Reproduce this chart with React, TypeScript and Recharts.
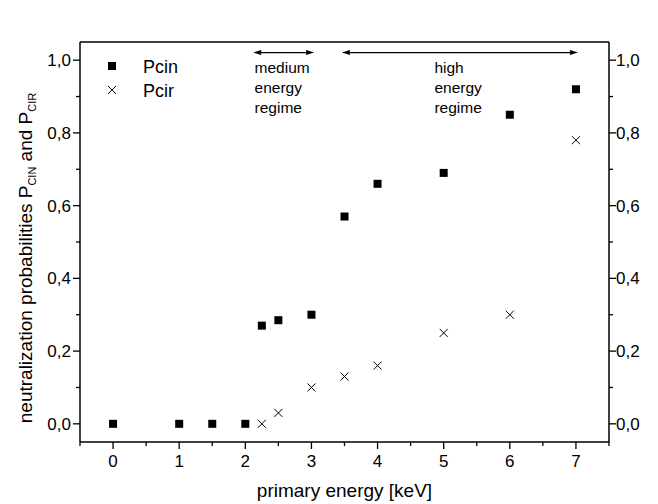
import React from "react";
import {
  Label,
  Legend,
  ReferenceDot,
  ReferenceLine,
  Scatter,
  ScatterChart,
  XAxis,
  YAxis,
} from "recharts";

const FONT = "'Liberation Sans', Arial, Helvetica, sans-serif";

// measured points
const pcinEnergy = [0, 1, 1.5, 2, 2.25, 2.5, 3, 3.5, 4, 5, 6, 7];
const pcinValues = [0, 0, 0, 0, 0.27, 0.285, 0.3, 0.57, 0.66, 0.69, 0.85, 0.92];
const pcirEnergy = [2.25, 2.5, 3, 3.5, 4, 5, 6, 7];
const pcirValues = [0, 0.03, 0.1, 0.13, 0.16, 0.25, 0.3, 0.78];

const energyTicks = [-0.5, 0, 0.5, 1, 1.5, 2, 2.5, 3, 3.5, 4, 4.5, 5, 5.5, 6, 6.5, 7, 7.5];
const probTicks = [0, 0.1, 0.2, 0.3, 0.4, 0.5, 0.6, 0.7, 0.8, 0.9, 1.0];

// annotations (data coordinates)
const mediumSpan = [2.12, 3.04];
const highSpan = [3.46, 7.03];
const arrowLevel = 1.021;
const noteLevel = 0.964;
const mediumNote = ["medium", "energy", "regime"];
const highNote = ["high", "energy", "regime"];

const pcinData = pcinEnergy.map((e, i) => ({ energy: e, p: pcinValues[i] }));
const pcirData = pcirEnergy.map((e, i) => ({ energy: e, p: pcirValues[i] }));

const makeTick = (side: string) => (props: any) => {
  const { x, y, payload } = props;
  const v = payload.value as number;
  const horizontal = side === "top" || side === "bottom";
  const major = horizontal ? Number.isInteger(v) : Math.round(v * 10) % 2 === 0;
  const len = major ? 7 : 4;
  const label = horizontal ? String(v) : v.toFixed(1).replace(".", ",");
  const common = { fontFamily: FONT, fontSize: 17, fill: "#000" };
  if (side === "top")
    return (
      <g>
        <line x1={x} y1={y} x2={x} y2={y - len} stroke="#000" strokeWidth={1.3} />
        {major && <text x={x} y={y - 15} textAnchor="middle" {...common}>{label}</text>}
      </g>
    );
  if (side === "bottom")
    return (
      <g>
        <line x1={x} y1={y} x2={x} y2={y + len} stroke="#000" strokeWidth={1.3} />
        {major && <text x={x} y={y + 25} textAnchor="middle" {...common}>{label}</text>}
      </g>
    );
  if (side === "left")
    return (
      <g>
        <line x1={x} y1={y} x2={x - len} y2={y} stroke="#000" strokeWidth={1.3} />
        {major && <text x={x - 9} y={y} dy="0.36em" textAnchor="end" {...common}>{label}</text>}
      </g>
    );
  return (
    <g>
      <line x1={x} y1={y} x2={x + len} y2={y} stroke="#000" strokeWidth={1.3} />
      {major && <text x={x + 7} y={y} dy="0.36em" textAnchor="start" {...common}>{label}</text>}
    </g>
  );
};

const SquareMark = (props: any) => (
  <rect x={props.cx - 4} y={props.cy - 4} width={8} height={8} fill="#000" />
);

const CrossMark = (props: any) => (
  <g stroke="#000" strokeWidth={1}>
    <line x1={props.cx - 4} y1={props.cy - 4} x2={props.cx + 4} y2={props.cy + 4} />
    <line x1={props.cx - 4} y1={props.cy + 4} x2={props.cx + 4} y2={props.cy - 4} />
  </g>
);

const DoubleArrow = (props: any) => {
  const { x1, y1, x2, y2 } = props;
  const head = 8;
  const half = 2.5;
  return (
    <g>
      <line x1={x1 + head - 1} y1={y1} x2={x2 - head + 1} y2={y2} stroke="#000" strokeWidth={1.2} />
      <polygon points={`${x1},${y1} ${x1 + head},${y1 - half} ${x1 + head},${y1 + half}`} fill="#000" />
      <polygon points={`${x2},${y2} ${x2 - head},${y2 - half} ${x2 - head},${y2 + half}`} fill="#000" />
    </g>
  );
};

const makeNote = (lines: string[]) => (props: any) => (
  <text x={props.cx} y={props.cy} fontFamily={FONT} fontSize={15.5} fill="#000">
    {lines.map((l, i) => (
      <tspan key={l + i} x={props.cx} dy={i === 0 ? 0 : 20}>
        {l}
      </tspan>
    ))}
  </text>
);

const YTitle = (props: any) => {
  const vb = props.viewBox;
  const cx = vb.x + 32;
  const cy = vb.y + vb.height / 2 + 16;
  return (
    <text
      x={cx}
      y={cy}
      transform={`rotate(-90, ${cx}, ${cy})`}
      textAnchor="middle"
      fontFamily={FONT}
      fontSize={19}
      fill="#000"
    >
      neutralization probabilities P
      <tspan fontSize={11} dy={4}>CIN</tspan>
      <tspan dy={-4}> and P</tspan>
      <tspan fontSize={11} dy={4}>CIR</tspan>
    </text>
  );
};

const XTitle = (props: any) => {
  const vb = props.viewBox;
  return (
    <text x={vb.x + vb.width / 2} y={vb.y + 55} textAnchor="middle" fontFamily={FONT} fontSize={19} fill="#000">
      primary energy [keV]
    </text>
  );
};

const LegendBox = (props: any) => {
  const items = props.payload || [];
  return (
    <svg width={90} height={52}>
      {items.map((it: any, i: number) => {
        const cy = 14 + i * 24;
        return (
          <g key={it.value}>
            {it.value === "Pcin" ? <SquareMark cx={12} cy={cy} /> : <CrossMark cx={12} cy={cy} />}
            <text x={43} y={cy + 6.5} fontFamily={FONT} fontSize={18} fill="#000">
              {it.value}
            </text>
          </g>
        );
      })}
    </svg>
  );
};

export default function App() {
  return (
    <div style={{ position: "absolute", left: 0, top: 0, background: "#fff" }}>
      <ScatterChart width={658} height={504} margin={{ top: 0, right: 0, bottom: 0, left: 0 }}>
        <XAxis
          xAxisId="bottom"
          orientation="bottom"
          type="number"
          dataKey="energy"
          domain={[-0.5, 7.5]}
          allowDataOverflow
          ticks={energyTicks}
          interval={0}
          height={62}
          tickSize={0}
          tickMargin={0}
          tickLine={false}
          axisLine={{ stroke: "#000", strokeWidth: 1.5 }}
          tick={makeTick("bottom")}
        >
          <Label content={XTitle} />
        </XAxis>
        <XAxis
          xAxisId="top"
          orientation="top"
          type="number"
          domain={[-0.5, 7.5]}
          allowDataOverflow
          ticks={energyTicks}
          interval={0}
          height={42}
          tickSize={0}
          tickMargin={0}
          tickLine={false}
          axisLine={{ stroke: "#000", strokeWidth: 1.5 }}
          tick={makeTick("top")}
        />
        <YAxis
          yAxisId="left"
          orientation="left"
          type="number"
          dataKey="p"
          domain={[-0.05, 1.05]}
          allowDataOverflow
          ticks={probTicks}
          interval={0}
          width={80}
          tickSize={0}
          tickMargin={0}
          tickLine={false}
          axisLine={{ stroke: "#000", strokeWidth: 1.5 }}
          tick={makeTick("left")}
        >
          <Label content={YTitle} />
        </YAxis>
        <YAxis
          yAxisId="right"
          orientation="right"
          type="number"
          domain={[-0.05, 1.05]}
          allowDataOverflow
          ticks={probTicks}
          interval={0}
          width={49}
          tickSize={0}
          tickMargin={0}
          tickLine={false}
          axisLine={{ stroke: "#000", strokeWidth: 1.5 }}
          tick={makeTick("right")}
        />
        <Legend
          layout="vertical"
          align="center"
          verticalAlign="middle"
          content={LegendBox}
          wrapperStyle={{ left: 100, top: 52, width: 90, height: 52 }}
        />
        <Scatter
          name="Pcin"
          data={pcinData}
          xAxisId="bottom"
          yAxisId="left"
          fill="#000"
          shape={SquareMark}
          isAnimationActive={false}
        />
        <Scatter
          name="Pcir"
          data={pcirData}
          xAxisId="bottom"
          yAxisId="left"
          fill="#000"
          shape={CrossMark}
          isAnimationActive={false}
        />
        <ReferenceLine
          xAxisId="bottom"
          yAxisId="left"
          segment={[
            { x: mediumSpan[0], y: arrowLevel },
            { x: mediumSpan[1], y: arrowLevel },
          ]}
          shape={DoubleArrow}
          ifOverflow="visible"
        />
        <ReferenceLine
          xAxisId="bottom"
          yAxisId="left"
          segment={[
            { x: highSpan[0], y: arrowLevel },
            { x: highSpan[1], y: arrowLevel },
          ]}
          shape={DoubleArrow}
          ifOverflow="visible"
        />
        <ReferenceDot
          xAxisId="bottom"
          yAxisId="left"
          x={2.14}
          y={noteLevel}
          r={0}
          shape={makeNote(mediumNote)}
          ifOverflow="visible"
        />
        <ReferenceDot
          xAxisId="bottom"
          yAxisId="left"
          x={4.86}
          y={noteLevel}
          r={0}
          shape={makeNote(highNote)}
          ifOverflow="visible"
        />
      </ScatterChart>
    </div>
  );
}
